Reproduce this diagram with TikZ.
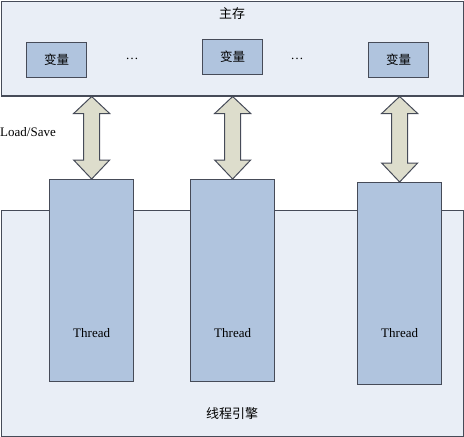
\documentclass[tikz,border=0pt]{standalone}
\usepackage{fontspec}
\setmainfont{Liberation Serif}
\newfontfamily\cjk{Noto Sans CJK SC}
\definecolor{panelfill}{RGB}{233,238,246}
\definecolor{boxfill}{RGB}{176,196,222}
\definecolor{edge}{RGB}{70,75,88}
\definecolor{arrowfill}{RGB}{221,221,204}
\begin{document}
\begin{tikzpicture}[x=1pt,y=-1pt,
  panel/.style={draw=edge,fill=panelfill,line width=1.3pt,inner sep=0pt,anchor=north west},
  varbox/.style={draw=edge,fill=boxfill,line width=1.3pt,inner sep=0pt,minimum width=60pt,minimum height=35pt,anchor=north west,font=\cjk\fontsize{12.5}{14}\selectfont},
  threadbox/.style={draw=edge,fill=boxfill,line width=1.3pt,inner sep=0pt,minimum width=84pt,minimum height=202pt,anchor=north west},
  lbl/.style={inner sep=0pt,font=\fontsize{13}{15}\selectfont},
  cjklbl/.style={inner sep=0pt,font=\cjk\fontsize{13}{15}\selectfont},
  dblarrow/.style={draw=edge,fill=arrowfill,line width=1pt,line join=miter}]
\useasboundingbox (0,0) rectangle (464,437);
% main memory panel
\node[panel,minimum width=462pt,minimum height=94.5pt] (mem) at (0.7,0.7) {};
\node[cjklbl] (memlbl) at (232,14) {主存};
\node[varbox] (v1) at (26,42) {变量};
\node[varbox] (v2) at (202,39) {变量};
\node[varbox] (v3) at (368,42) {变量};
\node[lbl] (dots1) at (132,59) {\dots};
\node[lbl] (dots2) at (297,59) {\dots};
% engine panel
\node[panel,minimum width=462pt,minimum height=226pt] (eng) at (0.7,209.5) {};
\node[cjklbl] (englbl) at (232,414) {线程引擎};
\node[threadbox] (t1) at (49,179) {};
\node[threadbox] (t2) at (190,179) {};
\node[threadbox] (t3) at (357,182) {};
\node[lbl] (th1) at (t1.center |- 0,333) {Thread};
\node[lbl] (th2) at (t2.center |- 0,333) {Thread};
\node[lbl] (th3) at (t3.center |- 0,333) {Thread};
\node[lbl] (ls) at (28,132) {Load/Save};
% double arrows between memory and threads
\foreach \t in {t1,t2,t3}{
  \path (\t.north |- mem.south) coordinate (a\t top) (\t.north) coordinate (a\t bot);
  \draw[dblarrow] (a\t top)
    -- ([xshift=18pt,yshift=-17pt]a\t top) -- ([xshift=8pt,yshift=-17pt]a\t top)
    -- ([xshift=8pt,yshift=19pt]a\t bot) -- ([xshift=18pt,yshift=19pt]a\t bot)
    -- (a\t bot)
    -- ([xshift=-18pt,yshift=19pt]a\t bot) -- ([xshift=-8pt,yshift=19pt]a\t bot)
    -- ([xshift=-8pt,yshift=-17pt]a\t top) -- ([xshift=-18pt,yshift=-17pt]a\t top)
    -- cycle;
}
\end{tikzpicture}
\end{document}
